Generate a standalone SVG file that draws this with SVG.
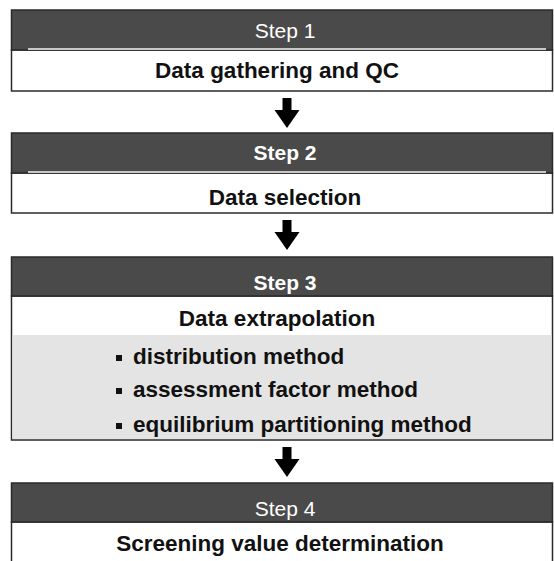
<svg xmlns="http://www.w3.org/2000/svg" width="554" height="561" viewBox="0 0 554 561">
<defs>
<style>
.hdr{fill:#4a4a4a;stroke:#2a2a2a;stroke-width:1.5}
.body{fill:#ffffff;stroke:#2a2a2a;stroke-width:1.5}
.gray{fill:#e4e4e4;stroke:none}
.hl{stroke:#c8c8c8;stroke-width:2}
.step{font-family:"Liberation Sans",Arial,sans-serif;font-size:21px;fill:#ffffff;text-anchor:middle}
.stepb{font-weight:bold}
.lbl{font-family:"Liberation Sans",Arial,sans-serif;font-size:22.5px;font-weight:bold;fill:#111111;text-anchor:middle}
.item{font-family:"Liberation Sans",Arial,sans-serif;font-size:22.5px;font-weight:bold;fill:#111111}
.bul{fill:#111111}
.arrow{fill:#000000}
</style>
<path id="arr" d="M-4.5,0 H4.5 V12 H12.5 L0,30 L-12.5,12 H-4.5 Z"/>
</defs>
<rect width="554" height="561" fill="#ffffff"/>
<g id="step1">
<rect class="body" x="11.5" y="50" width="541" height="41"/>
<rect class="hdr" x="11.5" y="10" width="541" height="40"/>
<line class="hl" x1="28" y1="49" x2="546" y2="49"/>
<text class="step" x="285" y="38">Step 1</text>
<text class="lbl" x="277" y="78">Data gathering and QC</text>
</g>
<g id="step2">
<rect class="body" x="11.5" y="173" width="541" height="40"/>
<rect class="hdr" x="11.5" y="133" width="541" height="40"/>
<line class="hl" x1="28" y1="172" x2="546" y2="172"/>
<text class="step stepb" x="285" y="160">Step 2</text>
<text class="lbl" x="285" y="205">Data selection</text>
</g>
<g id="step3">
<rect class="body" x="11.5" y="296" width="541" height="144"/>
<rect class="gray" x="12.5" y="335" width="539" height="104"/>
<rect class="hdr" x="11.5" y="257" width="541" height="39"/>
<text class="step stepb" x="285" y="290">Step 3</text>
<text class="lbl" x="277" y="326">Data extrapolation</text>
<rect class="bul" x="116" y="355" width="6" height="6"/>
<text class="item" x="133" y="364">distribution method</text>
<rect class="bul" x="116" y="388" width="6" height="6"/>
<text class="item" x="133" y="397">assessment factor method</text>
<rect class="bul" x="116" y="423" width="6" height="6"/>
<text class="item" x="133" y="432">equilibrium partitioning method</text>
</g>
<g id="step4">
<path class="body" d="M11.5,562 V522 H552.5 V562"/>
<rect class="hdr" x="11.5" y="483" width="541" height="39"/>
<text class="step" x="285" y="516">Step 4</text>
<text class="lbl" x="280" y="551">Screening value determination</text>
</g>
<g id="connectors">
<use href="#arr" class="arrow" x="287" y="98"/>
<use href="#arr" class="arrow" x="287" y="220"/>
<use href="#arr" class="arrow" x="287" y="447"/>
</g>
</svg>
